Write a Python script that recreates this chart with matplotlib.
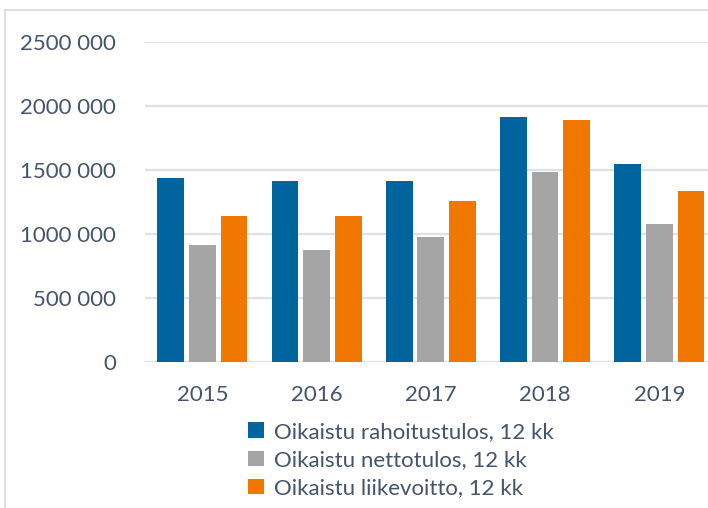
import matplotlib.pyplot as plt
import numpy as np
from matplotlib.patches import Rectangle

years = ["2015", "2016", "2017", "2018", "2019"]
rahoitustulos = [1443000, 1414000, 1414000, 1920000, 1552000]
nettotulos = [914000, 876000, 977000, 1490000, 1078000]
liikevoitto = [1140000, 1140000, 1264000, 1891000, 1342000]

series_labels = [
    "Oikaistu rahoitustulos, 12 kk",
    "Oikaistu nettotulos, 12 kk",
    "Oikaistu liikevoitto, 12 kk",
]
y_ticks = [0, 500000, 1000000, 1500000, 2000000, 2500000]
y_tick_labels = ["0", "500 000", "1000 000", "1500 000", "2000 000", "2500 000"]

colors = ["#00659E", "#A5A5A5", "#F07800"]
text_color = "#44546A"
grid_color = "#DDE2EA"

plt.rcParams["font.family"] = ["Lato", "DejaVu Sans"]

W, H = 708, 508
fig = plt.figure(figsize=(W / 100, H / 100), dpi=100)

# chart area border (cropped on the right and bottom)
fig.patches.append(Rectangle((5 / W, -0.1), 1.2, 1 - 10 / H + 0.1,
                             transform=fig.transFigure, fill=False,
                             edgecolor="#D9D9D9", linewidth=1.2))

left, right = 145.2, 716.5
bottom, top = 362.3, 42.3
ax = fig.add_axes([left / W, 1 - bottom / H, (right - left) / W, (bottom - top) / H])

x = np.arange(len(years))
step = 0.277
width = 0.234
bars = []
for i, (vals, col) in enumerate(zip([rahoitustulos, nettotulos, liikevoitto], colors)):
    b = ax.bar(x + (i - 1) * step, vals, width=width, color=col, zorder=3,
               label=series_labels[i])
    bars.append(b)

ax.set_xlim(-0.5, len(years) - 0.5)
ax.set_ylim(0, 2500000)
ax.set_yticks(y_ticks)
ax.set_yticklabels(y_tick_labels)
ax.set_xticks(x)
ax.set_xticklabels(years)
ax.tick_params(axis="both", length=0, labelsize=16, colors=text_color)
ax.tick_params(axis="y", pad=21)
ax.tick_params(axis="x", pad=16)
for lab in ax.get_yticklabels() + ax.get_xticklabels():
    lab.set_color(text_color)

ax.grid(axis="y", color=grid_color, linewidth=1.6, zorder=0)
for s in ax.spines.values():
    s.set_visible(False)

fig.legend(handles=bars, labels=series_labels, loc="upper left",
           bbox_to_anchor=(248 / W, 1 - 422 / H), frameon=False,
           fontsize=16, labelcolor=text_color, handlelength=0.7,
           handleheight=0.7, handletextpad=0.45, labelspacing=0.37,
           borderpad=0, borderaxespad=0)

fig.savefig("out.png", dpi=100)
